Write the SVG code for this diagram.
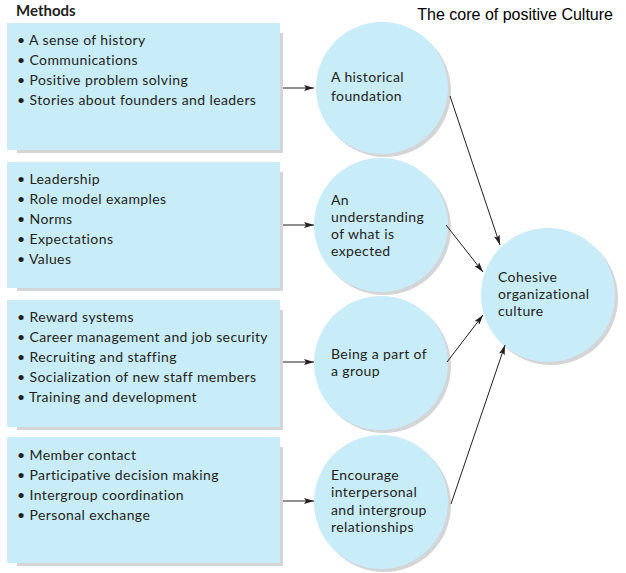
<svg xmlns="http://www.w3.org/2000/svg" width="626" height="573" viewBox="0 0 626 573">
<defs>
<style>
.box{fill:#c9ecf9}
.sh{fill:#d3d5d6}
.t{font-family:Lato,"Open Sans","Liberation Sans",sans-serif;font-size:14px;letter-spacing:0.4px;fill:#231f20}
.ttl{font-family:"Liberation Sans",Arial,sans-serif;font-size:16px;fill:#000}
.hd{font-family:Lato,"Open Sans","Liberation Sans",sans-serif;font-size:15px;font-weight:bold;fill:#231f20}
.ln{stroke:#231f20;stroke-width:1;fill:none;marker-end:url(#ah)}
</style>
<marker id="ah" viewBox="0 0 10 6" refX="10" refY="3" markerWidth="10" markerHeight="6" markerUnits="userSpaceOnUse" orient="auto">
<path d="M0,0 L10,3 L0,6 L2,3 Z" fill="#231f20"/>
</marker>
</defs>
<rect width="626" height="573" fill="#fff"/>
<text class="hd" x="16" y="16">Methods</text>
<text class="ttl" x="613" y="20" text-anchor="end">The core of positive Culture</text>

<g id="box1">
<rect class="sh" x="17" y="33" width="266" height="120"/>
<rect class="box" x="7" y="23" width="273" height="127"/>
<text class="t" x="17" y="45">• A sense of history</text>
<text class="t" x="17" y="65">• Communications</text>
<text class="t" x="17" y="85">• Positive problem solving</text>
<text class="t" x="17" y="105">• Stories about founders and leaders</text>
</g>
<g id="box2">
<rect class="sh" x="17" y="172" width="266" height="119"/>
<rect class="box" x="7" y="162" width="273" height="126"/>
<text class="t" x="17" y="184">• Leadership</text>
<text class="t" x="17" y="204">• Role model examples</text>
<text class="t" x="17" y="224">• Norms</text>
<text class="t" x="17" y="244">• Expectations</text>
<text class="t" x="17" y="264">• Values</text>
</g>
<g id="box3">
<rect class="sh" x="17" y="310" width="266" height="120"/>
<rect class="box" x="7" y="300" width="273" height="127"/>
<text class="t" x="17" y="322">• Reward systems</text>
<text class="t" x="17" y="342">• Career management and job security</text>
<text class="t" x="17" y="362">• Recruiting and staffing</text>
<text class="t" x="17" y="382">• Socialization of new staff members</text>
<text class="t" x="17" y="402">• Training and development</text>
</g>
<g id="box4">
<rect class="sh" x="17" y="447" width="266" height="119"/>
<rect class="box" x="7" y="437" width="273" height="126"/>
<text class="t" x="17" y="460">• Member contact</text>
<text class="t" x="17" y="480">• Participative decision making</text>
<text class="t" x="17" y="500">• Intergroup coordination</text>
<text class="t" x="17" y="520">• Personal exchange</text>
</g>

<g id="c1">
<circle class="sh" cx="385" cy="91" r="66"/>
<circle class="box" cx="382" cy="88" r="66"/>
<text class="t" x="331" y="82">A historical</text>
<text class="t" x="331" y="101">foundation</text>
</g>
<g id="c2">
<circle class="sh" cx="384" cy="228" r="67"/>
<circle class="box" cx="381" cy="225" r="67"/>
<text class="t" x="331" y="205">An</text>
<text class="t" x="331" y="222">understanding</text>
<text class="t" x="331" y="239">of what is</text>
<text class="t" x="331" y="256">expected</text>
</g>
<g id="c3">
<circle class="sh" cx="384" cy="366" r="67"/>
<circle class="box" cx="381" cy="363" r="67"/>
<text class="t" x="331" y="359">Being a part of</text>
<text class="t" x="331" y="376">a group</text>
</g>
<g id="c4">
<circle class="sh" cx="384" cy="505" r="67"/>
<circle class="box" cx="381" cy="502" r="67"/>
<text class="t" x="331" y="480">Encourage</text>
<text class="t" x="331" y="497">interpersonal</text>
<text class="t" x="331" y="515">and intergroup</text>
<text class="t" x="331" y="532">relationships</text>
</g>
<g id="c5">
<circle class="sh" cx="551" cy="298" r="67"/>
<circle class="box" cx="548" cy="295" r="67"/>
<text class="t" x="498" y="282">Cohesive</text>
<text class="t" x="498" y="299">organizational</text>
<text class="t" x="498" y="316">culture</text>
</g>

<g id="connectors">
<line class="ln" x1="283" y1="88" x2="314" y2="88"/>
<line class="ln" x1="283" y1="225" x2="314" y2="225"/>
<line class="ln" x1="283" y1="362" x2="314" y2="362"/>
<line class="ln" x1="283" y1="501" x2="314" y2="501"/>
<line class="ln" x1="450" y1="96" x2="500" y2="245"/>
<line class="ln" x1="446" y1="225" x2="483" y2="272"/>
<line class="ln" x1="447" y1="362" x2="483" y2="315"/>
<line class="ln" x1="451" y1="504" x2="505" y2="345"/>
</g>
</svg>
